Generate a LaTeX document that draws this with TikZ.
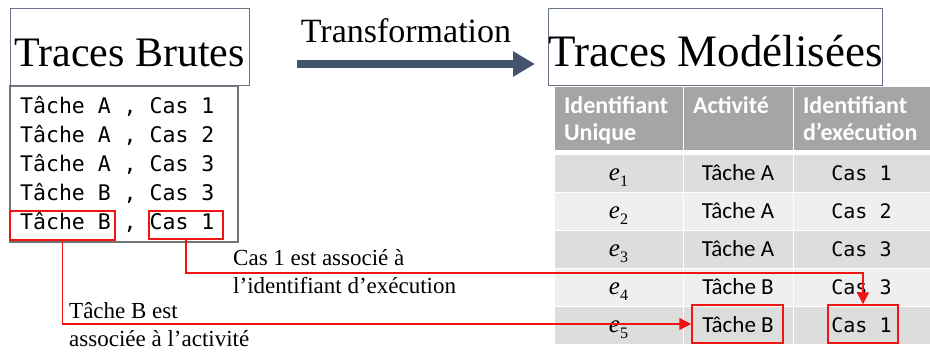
\documentclass[tikz,border=0pt]{standalone}
\usepackage{fontspec}
\setmainfont{Liberation Serif}
\newfontfamily\rawfont{DejaVu Sans Mono}
\newfontfamily\tabfont{Carlito}
\usetikzlibrary{arrows.meta}

\definecolor{slate}{RGB}{68,84,106}
\definecolor{boxline}{RGB}{105,115,135}
\definecolor{listline}{RGB}{115,115,115}
\definecolor{headgray}{RGB}{165,165,165}
\definecolor{rowdark}{RGB}{221,221,221}
\definecolor{rowlight}{RGB}{239,239,239}
\definecolor{markred}{RGB}{240,20,20}

\newcommand{\evt}[1]{\textit{e}\raisebox{-6pt}{\fontsize{16}{16}\selectfont #1}}

\tikzset{
  titlebox/.style={draw=boxline, line width=0.8pt, minimum height=77pt, inner sep=0pt,
    text height=39pt, text depth=0pt},
  listbox/.style={draw=listline, line width=1.2pt, inner sep=0pt},
  rawline/.style={anchor=base west, inner sep=0pt, font=\rawfont\fontsize{21.5}{26}\selectfont},
  cell/.style={draw=white, line width=1pt, minimum height=38pt, inner sep=0pt},
  headcell/.style={cell, fill=headgray, minimum height=64pt, align=left, text=white,
    text height=18pt, text depth=28pt, font=\tabfont\bfseries\fontsize{24}{27}\selectfont},
  redbox/.style={draw=markred, line width=1.5pt, inner sep=0pt},
  redline/.style={draw=markred, line width=1.5pt, -{Triangle[length=12pt,width=12pt]}},
  note/.style={anchor=north west, align=left, inner sep=0pt, font=\fontsize{23}{28}\selectfont},
  bigarrow/.style={draw=slate, line width=8pt, -{Triangle[length=22pt,width=24pt]}},
}

\begin{document}
\begin{tikzpicture}[x=1pt, y=-1pt]
\useasboundingbox (0,0) rectangle (930,354);
\fill[white] (0,0) rectangle (930,354);
%
\node[listbox, minimum width=228pt, minimum height=156pt] (rawlist) at (124,164) {};
\node[titlebox, minimum width=239pt, font=\fontsize{42}{48}\selectfont] (rawtitle) at (129.5,46.5) {Traces Brutes};
\foreach \i/\tk/\cn in {1/A/1, 2/A/2, 3/A/3, 4/B/3, 5/B/1}
  \node[rawline] (raw\i) at (20,{84.3+29*\i}) {Tâche \tk{} , Cas \cn};
\node[redbox, minimum width=105pt, minimum height=29pt] (rawB) at (62.5,225.5) {};
\node[redbox, minimum width=74pt, minimum height=28pt] (rawC) at (186,225) {};
%
\node[anchor=base, inner sep=0pt, font=\fontsize{34}{40}\selectfont] (trans) at (406,42.3) {Transformation};
\coordinate (tstart) at (297,64);
\coordinate (tend) at (535,64);
\draw[bigarrow] (tstart) -- (tend);
%
\node[titlebox, minimum width=323pt, font=\fontsize{45}{50}\selectfont] (modtitle) at (715.5,46.5) {Traces Modélisées};
\node[headcell, minimum width=129pt, text width=109pt] (hid) at (618.5,118) {Identifiant\\Unique};
\node[headcell, minimum width=110pt, text width=90pt] (hact) at (738,118) {Activité};
\node[headcell, minimum width=137pt, text width=117pt] (hexe) at (861.5,118) {Identifiant\\d’exécution};
\foreach \i/\tk/\cn/\rc in {1/A/1/rowdark, 2/A/2/rowlight, 3/A/3/rowdark, 4/B/3/rowlight, 5/B/1/rowdark}{
  \node[cell, fill=\rc, minimum width=129pt, text height=14pt, text depth=0pt, font=\fontsize{25}{28}\selectfont] (id\i) at (618.5,{135+38*\i}) {\evt{\i}};
  \node[cell, fill=\rc, minimum width=110pt, font=\tabfont\fontsize{23}{27}\selectfont] (act\i) at (738,{135+38*\i}) {Tâche \tk};
  \node[cell, fill=\rc, minimum width=137pt, font=\rawfont\fontsize{20}{24}\selectfont] (exe\i) at (861.5,{135+38*\i}) {Cas \cn};
}
\node[redbox, minimum width=91pt, minimum height=38pt] (modB) at (737.5,324) {};
\node[redbox, minimum width=70pt, minimum height=38pt] (modC) at (863,324) {};
%
\node[note] (casnote) at (233,249.3) {Cas 1 est associé à\\l’identifiant d’exécution};
\node[note] (tachenote) at (69,302.6) {Tâche B est\\associée à l’activité};
\draw[redline] (rawC.south) -- ++(0,33) -| (modC.north);
\draw[redline] (rawB.south) |- (modB.west);
\end{tikzpicture}
\end{document}
